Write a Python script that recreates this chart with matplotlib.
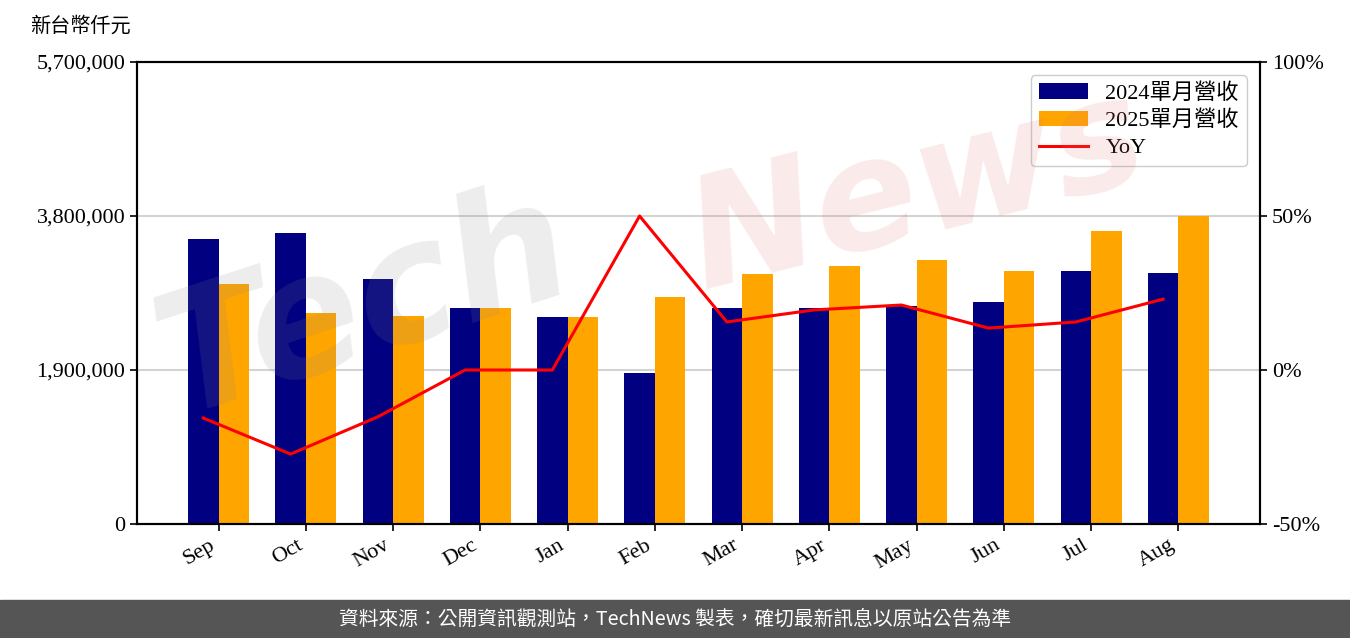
import numpy as np
import matplotlib
matplotlib.use('Agg')
import matplotlib.pyplot as plt
from matplotlib.ticker import FuncFormatter, FixedLocator

plt.rcParams['font.family'] = ['Liberation Serif', 'Noto Sans CJK TC', 'DejaVu Sans']

# data
months = ['Sep', 'Oct', 'Nov', 'Dec', 'Jan', 'Feb', 'Mar', 'Apr', 'May', 'Jun', 'Jul', 'Aug']
rev_2024 = [3516000, 3590000, 3023000, 2665000, 2554000, 1863000,
            2665000, 2665000, 2690000, 2739000, 3122000, 3097000]
rev_2025 = [2961000, 2603000, 2566000, 2665000, 2554000, 2801000,
            3085000, 3183000, 3257000, 3122000, 3615000, 3800000]
yoy = [-15.6, -27.3, -15.2, 0.0, 0.0, 50.0, 15.6, 19.5, 21.1, 13.6, 15.6, 23.0]
left_ticks = [0, 1900000, 3800000, 5700000]
right_ticks = [-50, 0, 50, 100]

fig = plt.figure(figsize=(13.5, 6.38), dpi=100)
ax = fig.add_axes([0.1015, 0.1787, 0.8318, 0.7241])

x = np.arange(len(months))
w = 0.35
b1 = ax.bar(x - w / 2, rev_2024, width=w, color='#000080', label='2024單月營收', zorder=2)
b2 = ax.bar(x + w / 2, rev_2025, width=w, color='#FFA500', label='2025單月營收', zorder=2)

ax.set_ylim(0, 5700000)
ax.yaxis.set_major_locator(FixedLocator(left_ticks))
ax.yaxis.set_major_formatter(FuncFormatter(lambda v, p: f'{int(v):,}'))
ax.grid(axis='y', color='#d3d3d3', linewidth=1.5, zorder=0)
ax.set_axisbelow(True)
ax.set_xticks(x)
ax.set_xticklabels(months, rotation=30, ha='right')
ax.tick_params(labelsize=16, width=1.2, length=5)
for s in ax.spines.values():
    s.set_linewidth(1.5)

ax2 = ax.twinx()
l1, = ax2.plot(x - w / 2, yoy, color='#FF0000', linewidth=2.2, label='YoY', zorder=3)
ax2.set_ylim(-50, 100)
ax2.yaxis.set_major_locator(FixedLocator(right_ticks))
ax2.yaxis.set_major_formatter(FuncFormatter(lambda v, p: f'{v:.0f}%'))
ax2.tick_params(labelsize=16, width=1.2, length=5)
for s in ax2.spines.values():
    s.set_linewidth(1.5)

leg = ax2.legend([b1, b2, l1], ['2024單月營收', '2025單月營收', 'YoY'],
                 loc='upper right', fontsize=16, fancybox=True, framealpha=1,
                 edgecolor='#cccccc', handlelength=2.2, borderpad=0.35,
                 labelspacing=0.3, borderaxespad=0.6)

# unit label
fig.text(30 / 1350, 1 - 27 / 638, '新台幣仟元', fontsize=14.5, va='center', ha='left')

# watermark
fig.text(0.27, 0.52, 'Tech', fontsize=120, color='#888888', alpha=0.15,
         rotation=18, ha='center', va='center', style='italic', family='DejaVu Sans', weight='bold')
fig.text(0.68, 0.70, 'News', fontsize=110, color='#e07070', alpha=0.15,
         rotation=14, ha='center', va='center', style='italic', family='DejaVu Sans', weight='bold')

# footer band
fig.patches.append(plt.Rectangle((0, 0), 1, 38 / 638, transform=fig.transFigure,
                                 color='#555555', zorder=0))
fig.text(0.5, 19 / 638, '資料來源：公開資訊觀測站，TechNews 製表，確切最新訊息以原站公告為準',
         color='white', fontsize=14.2, ha='center', va='center',
         family=['Noto Sans CJK TC', 'DejaVu Sans'])

fig.savefig('out.png', dpi=100)
